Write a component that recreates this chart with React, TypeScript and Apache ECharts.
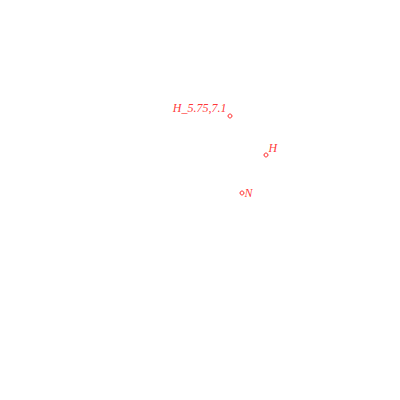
import React, { useEffect, useRef } from "react";
import * as echarts from "echarts";

const names = ["H_{c}", "H", "N"];
const xs = [5.75, 6.65, 6.05];
const ys = [7.1, 6.125, 5.175];
const labelPos = ["left", "right", "right"];
const labelOffsets = [[1, -8], [-2, -7], [-2, 0]];

export default function App() {
  const ref = useRef<HTMLDivElement>(null);
  useEffect(() => {
    const chart = echarts.init(ref.current!, null, { renderer: "svg" });
    chart.setOption({
      animation: false,
      grid: { left: 0, right: 0, top: 0, bottom: 0 },
      xAxis: { type: "value", min: 0, max: 10, show: false },
      yAxis: { type: "value", min: 0, max: 10, show: false },
      series: [
        {
          type: "scatter",
          symbol: "circle",
          symbolSize: 4,
          itemStyle: { color: "#fff", borderColor: "#f00", borderWidth: 1 },
          data: names.map((n, i) => ({
            name: n,
            value: [xs[i], ys[i]],
            label: {
              show: true,
              formatter: n,
              position: labelPos[i],
              distance: 2,
              offset: labelOffsets[i],
              color: "#f00",
              fontFamily: "Liberation Serif",
              fontStyle: "italic",
              fontSize: 12,
            },
          })),
        },
      ],
    });
    return () => chart.dispose();
  }, []);
  return (
    <div
      ref={ref}
      style={{ position: "fixed", left: 0, top: 0, width: 400, height: 400, background: "#fff" }}
    />
  );
}
